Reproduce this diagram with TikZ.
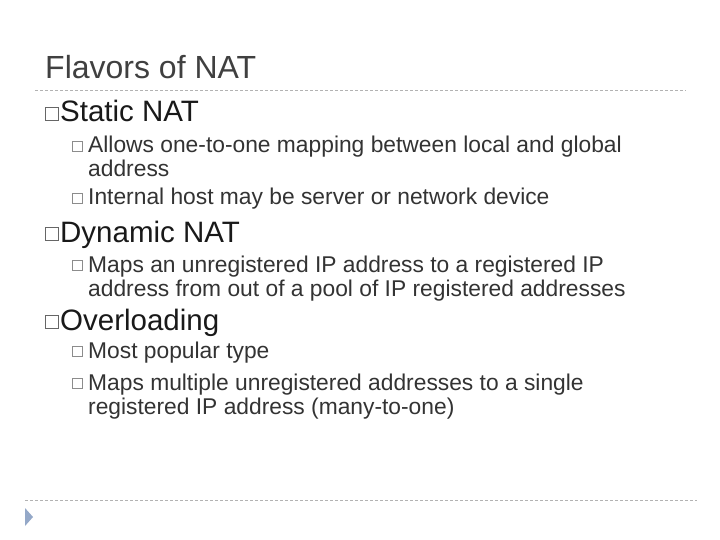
\documentclass[tikz,border=0pt]{standalone}
\usepackage{fontspec}
\setmainfont{Liberation Sans}
\begin{document}
\begin{tikzpicture}[x=1pt,y=-1pt,
  ttl/.style={anchor=base west,inner sep=0,font=\fontsize{32}{36}\selectfont,text=black!75},
  lone/.style={anchor=base west,inner sep=0,font=\fontsize{29.5}{33}\selectfont,text=black!90},
  ltwo/.style={anchor=base west,inner sep=0,font=\fontsize{22.8}{26}\selectfont,text=black!80},
  bone/.style={draw=black!60,line width=1pt,minimum size=13pt,inner sep=0},
  btwo/.style={draw=black!45,line width=0.6pt,minimum size=10pt,inner sep=0},
  rule/.style={draw=black!30,dashed,dash pattern=on 3pt off 2pt,line width=0.6pt}]
\useasboundingbox (0,0) rectangle (720,540);
\fill[white] (0,0) rectangle (720,540);
\definecolor{arr}{HTML}{94A8C8}
\node[ttl] (t) at (45,79) {Flavors of NAT};
\coordinate (r1a) at (35,90); \coordinate (r1b) at (686,90);
\draw[rule] (r1a) -- (r1b);
\coordinate (r2a) at (25,500); \coordinate (r2b) at (697,500);
\draw[rule] (r2a) -- (r2b);
\fill[arr] (25,508) -- (33,517) -- (25,526) -- cycle;
% level 1
\node[bone] (b1) at (52,114) {}; \node[lone] (s) at (60,122) {Static NAT};
\node[bone] (b2) at (52,234) {}; \node[lone] (d) at (60,242) {Dynamic NAT};
\node[bone] (b3) at (52,322) {}; \node[lone] (o) at (60,330) {Overloading};
% level 2
\node[btwo] (c1) at (77,146) {}; \node[ltwo] (l1) at (88,153) {Allows one-to-one mapping between local and global};
\node[ltwo] (l1b) at (88,177) {address};
\node[btwo] (c2) at (77,198) {}; \node[ltwo] (l2) at (88,205) {Internal host may be server or network device};
\node[btwo] (c3) at (77,265) {}; \node[ltwo] (l3) at (88,272) {Maps an unregistered IP address to a registered IP};
\node[ltwo] (l3b) at (88,296) {address from out of a pool of IP registered addresses};
\node[btwo] (c4) at (77,351) {}; \node[ltwo] (l4) at (88,358) {Most popular type};
\node[btwo] (c5) at (77,383) {}; \node[ltwo] (l5) at (88,390) {Maps multiple unregistered addresses to a single};
\node[ltwo] (l5b) at (88,414) {registered IP address (many-to-one)};
\end{tikzpicture}
\end{document}
